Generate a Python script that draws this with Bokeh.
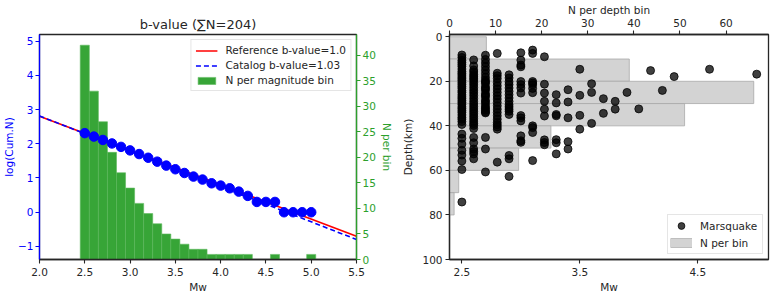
import math

from bokeh.embed import file_html
from bokeh.layouts import row
from bokeh.models import (CustomJSTickFormatter, FixedTicker, Legend,
                          LegendItem, LinearAxis, Range1d)
from bokeh.plotting import figure
from bokeh.resources import INLINE

# ---------------------------------------------------------------------------
# Magnitude-frequency data (0.1 Mw bins)
# ---------------------------------------------------------------------------
mag_bins = [2.5, 2.6, 2.7, 2.8, 2.9, 3.0, 3.1, 3.2, 3.3, 3.4, 3.5, 3.6, 3.7,
            3.8, 3.9, 4.0, 4.1, 4.2, 4.3, 4.4, 4.5, 4.6, 4.7, 4.8, 4.9, 5.0]
n_per_mag_bin = [42, 33, 27, 21, 17, 14, 11, 9, 7, 5, 4, 3, 2,
                 2, 1, 1, 1, 1, 1, 0, 0, 1, 0, 0, 0, 1]
cum_n = [204, 162, 129, 102, 81, 64, 50, 39, 30, 23, 18, 14, 11,
         9, 7, 6, 5, 4, 3, 2, 2, 2, 1, 1, 1, 1]

# Gutenberg-Richter lines: log N = a - b * Mw
ref_a, ref_b = 4.80, 1.00
cat_a, cat_b = 4.87, 1.03
line_mw = [2.0, 5.5]

# ---------------------------------------------------------------------------
# Depth distribution (10 km bins)
# ---------------------------------------------------------------------------
depth_edges = [0, 10, 20, 30, 40, 50, 60, 70, 80]
n_per_depth_bin = [8, 39, 66, 51, 22, 15, 2, 1]

# Event depths (km) grouped by magnitude
quake_mw_levels = [2.5, 2.6, 2.7, 2.8, 2.9, 3.0, 3.1, 3.2, 3.3, 3.4, 3.5,
                   3.6, 3.7, 3.8, 3.9, 4.0, 4.1, 4.2, 4.3, 4.6, 5.0]
depths_25 = [8.2, 9.3, 10.6, 11.5, 12.4, 13.3, 14.5, 15.6, 16.4, 17.2, 18.1,
             18.9, 19.7, 20.6, 21.4, 22.3, 23.1, 24.2, 25.0, 26.1, 27.0, 27.8,
             28.7, 29.5, 30.4, 31.5, 32.3, 33.2, 34.0, 35.1, 36.2, 37.0, 38.1,
             39.4, 43.7, 45.6, 48.2, 51.0, 53.1, 55.8, 59.6, 74.2]
depths_26 = [10.4, 13.1, 14.9, 15.8, 16.9, 17.7, 18.6, 19.4, 20.5, 21.6, 22.8,
             24.0, 25.2, 26.4, 27.7, 29.0, 30.2, 31.3, 32.4, 33.5, 34.6, 35.7,
             36.8, 37.9, 39.0, 39.8, 41.2, 45.2, 47.6, 50.4, 51.5, 52.6, 54.8]
depths_27 = [8.3, 10.2, 11.8, 13.4, 15.0, 16.6, 18.2, 19.5, 20.3, 21.0, 22.5,
             23.2, 24.0, 25.5, 26.3, 27.0, 28.5, 29.3, 30.4, 31.5, 32.2, 33.0,
             33.8, 34.2, 45.2, 50.4, 60.7]
depths_28 = [7.5, 16.4, 17.5, 18.8, 20.5, 22.0, 23.5, 25.0, 26.5, 28.0, 29.5,
             31.0, 32.5, 34.0, 35.5, 37.0, 38.5, 39.5, 40.5, 41.5, 56.3]
depths_29 = [17.1, 18.5, 20.2, 21.5, 23.0, 24.5, 26.0, 27.5, 29.0, 30.5, 31.5,
             32.5, 33.5, 34.9, 53.3, 54.8, 62.7]
depths_30 = [7.2, 10.5, 12.7, 13.5, 20.1, 21.5, 23.0, 25.3, 35.4, 36.4, 37.8,
             44.5, 46.7, 47.4]
depths_31 = [6.0, 7.5, 20.1, 20.8, 21.6, 23.2, 25.1, 40.0, 40.8, 43.0, 55.6]
depths_32 = [9.0, 21.3, 25.3, 29.0, 32.5, 35.6, 46.3, 47.5, 48.5]
depths_33 = [26.0, 29.7, 34.9, 35.5, 46.2, 47.6, 52.6]
depths_34 = [23.8, 29.3, 36.4, 47.1, 50.4]
depths_35 = [14.6, 26.3, 35.3, 41.5]
depths_36 = [21.1, 25.0, 38.9]
depths_37 = [27.8, 34.4]
depths_38 = [29.0, 32.5]
depths_39 = [25.0]
depths_40 = [32.4]
depths_41 = [15.2]
depths_42 = [24.1]
depths_43 = [17.9]
depths_46 = [14.6]
depths_50 = [16.8]

depth_groups = [depths_25, depths_26, depths_27, depths_28, depths_29,
                depths_30, depths_31, depths_32, depths_33, depths_34,
                depths_35, depths_36, depths_37, depths_38, depths_39,
                depths_40, depths_41, depths_42, depths_43, depths_46,
                depths_50]

# Tick positions
lhs_x_ticks = [2.0, 2.5, 3.0, 3.5, 4.0, 4.5, 5.0, 5.5]
lhs_y_ticks = [-1, 0, 1, 2, 3, 4, 5]
lhs_n_ticks = [0, 5, 10, 15, 20, 25, 30, 35, 40]
rhs_x_ticks = [2.5, 3.5, 4.5]
rhs_y_ticks = [0, 20, 40, 60, 80, 100]
rhs_n_ticks = [0, 10, 20, 30, 40, 50, 60]

# ---------------------------------------------------------------------------
# Styling helpers
# ---------------------------------------------------------------------------
FONT = "DejaVu Sans"
DARK = "#262626"
BLUE = "blue"
GREEN = "#2ca02c"
SMALL = "10.5px"
BAR_GREY = "#d3d3d3"
BAR_EDGE = "#a8a8a8"

fmt_1dp = CustomJSTickFormatter(code="return tick.toFixed(1);")
fmt_int = CustomJSTickFormatter(
    code="return tick < 0 ? '\u2212' + (-tick).toFixed(0) : tick.toFixed(0);")


def style_axis(ax, color, ticks, formatter, label, label_standoff=2,
               tick_standoff=3, line_height=1.2):
    ax.ticker = FixedTicker(ticks=ticks)
    ax.formatter = formatter
    ax.axis_label = label
    ax.axis_line_color = color
    ax.axis_line_width = 1.3
    ax.major_tick_line_color = color
    ax.major_tick_line_width = 1.1
    ax.major_tick_out = 4
    ax.major_tick_in = 0
    ax.minor_tick_line_color = None
    ax.major_label_text_color = color
    ax.major_label_text_font = FONT
    ax.major_label_text_font_size = SMALL
    ax.major_label_text_line_height = line_height
    ax.major_label_standoff = tick_standoff
    ax.axis_label_text_color = color
    ax.axis_label_text_font = FONT
    ax.axis_label_text_font_size = SMALL
    ax.axis_label_text_font_style = "normal"
    ax.axis_label_text_line_height = line_height
    ax.axis_label_standoff = label_standoff


def style_legend(lg, location):
    lg.location = location
    lg.margin = 5
    lg.padding = 4
    lg.spacing = 3
    lg.glyph_width = 22
    lg.glyph_height = 9
    lg.label_height = 12
    lg.label_standoff = 8
    lg.label_text_font = FONT
    lg.label_text_font_size = SMALL
    lg.label_text_color = DARK
    lg.border_line_color = "#cccccc"
    lg.border_line_width = 1
    lg.background_fill_alpha = 0.85


# ---------------------------------------------------------------------------
# Left panel: cumulative magnitude-frequency and b-value fits
# ---------------------------------------------------------------------------
p1 = figure(width=395, height=296, output_backend="svg", toolbar_location=None,
            x_range=Range1d(2.0, 5.5), y_range=Range1d(-1.38, 5.19),
            min_border_left=37, min_border_right=39,
            min_border_top=31, min_border_bottom=37,
            title="b-value (\u2211N=204)")
p1.title.align = "center"
p1.title.text_font = FONT
p1.title.text_font_size = "13px"
p1.title.text_font_style = "normal"
p1.title.text_color = DARK
p1.title.standoff = 6
p1.grid.visible = False
p1.outline_line_color = DARK
p1.outline_line_width = 1.3
p1.extra_y_ranges = {"n": Range1d(0, 44.1)}

right_ax = LinearAxis(y_range_name="n")
p1.add_layout(right_ax, "right")

style_axis(p1.below[0], DARK, lhs_x_ticks, fmt_1dp, "Mw", tick_standoff=4)
style_axis(p1.left[0], BLUE, lhs_y_ticks, fmt_int, "log(Cum.N)",
           label_standoff=0, tick_standoff=2, line_height=1.0)
style_axis(right_ax, GREEN, lhs_n_ticks, fmt_int, "N per bin",
           label_standoff=2, tick_standoff=2)

mag_bars = p1.vbar(x=mag_bins, width=0.1, top=n_per_mag_bin, bottom=0,
                   y_range_name="n", fill_color=GREEN, fill_alpha=0.95,
                   line_color="#5cb85c", line_width=0.6)

ref_line = p1.line(line_mw, [ref_a - ref_b * m for m in line_mw],
                   line_color="red", line_width=1.6)
cat_line = p1.line(line_mw, [cat_a - cat_b * m for m in line_mw],
                   line_color=BLUE, line_width=1.6, line_dash="5 3")

p1.scatter(mag_bins, [math.log10(n) for n in cum_n], size=9.5,
           fill_color=BLUE, line_color=BLUE)

legend1 = Legend(items=[
    LegendItem(label="Reference b-value=1.0", renderers=[ref_line]),
    LegendItem(label="Catalog b-value=1.03", renderers=[cat_line]),
    LegendItem(label="N per magnitude bin", renderers=[mag_bars]),
])
style_legend(legend1, "top_right")
p1.add_layout(legend1)

# ---------------------------------------------------------------------------
# Right panel: depth versus magnitude, with depth histogram
# ---------------------------------------------------------------------------
quake_mw = []
quake_depth = []
for mw, depths in zip(quake_mw_levels, depth_groups):
    quake_mw.extend([mw] * len(depths))
    quake_depth.extend(depths)

depth_centers = [(a + b) / 2 for a, b in zip(depth_edges[:-1], depth_edges[1:])]
depth_height = depth_edges[1] - depth_edges[0]

p2 = figure(width=375, height=296, output_backend="svg",
            toolbar_location=None,
            x_range=Range1d(2.395, 5.10), y_range=Range1d(100, -1),
            min_border_left=54, min_border_right=2,
            min_border_top=32, min_border_bottom=37)
p2.grid.visible = False
p2.outline_line_color = DARK
p2.outline_line_width = 1.3
p2.extra_x_ranges = {"nd": Range1d(0, 69.2)}

top_ax = LinearAxis(x_range_name="nd")
p2.add_layout(top_ax, "above")

style_axis(p2.below[0], DARK, rhs_x_ticks, fmt_1dp, "Mw", tick_standoff=4)
style_axis(p2.left[0], DARK, rhs_y_ticks, fmt_int, "Depth(km)",
           label_standoff=5)
style_axis(top_ax, DARK, rhs_n_ticks, fmt_int, "N per depth bin",
           label_standoff=0, tick_standoff=4, line_height=0.9)

depth_bars = p2.hbar(y=depth_centers, height=depth_height, left=0,
                     right=n_per_depth_bin, x_range_name="nd",
                     fill_color=BAR_GREY, line_color=BAR_EDGE, line_width=0.8)
quakes = p2.scatter(quake_mw, quake_depth, size=8, fill_color="black",
                    fill_alpha=0.75, line_color="black", line_alpha=0.75)

# legend swatch for the depth bars: an edged grey band, kept off-canvas
swatch_x = [10.0, 11.0]
swatch_y = [500.0, 500.0]
swatch_edge = p2.line(x=swatch_x, y=swatch_y, line_color=BAR_EDGE,
                      line_width=9.5)
swatch_fill = p2.line(x=swatch_x, y=swatch_y, line_color=BAR_GREY,
                      line_width=8)

legend2 = Legend(items=[
    LegendItem(label="Marsquake", renderers=[quakes]),
    LegendItem(label="N per bin", renderers=[swatch_edge, swatch_fill]),
])
style_legend(legend2, "bottom_right")
legend2.glyph_height = 17
legend2.spacing = -3
legend2.padding = 2
legend2.label_width = 60
p2.add_layout(legend2)

layout = row(p1, p2)
open("out.html", "w").write(file_html(layout, INLINE))
